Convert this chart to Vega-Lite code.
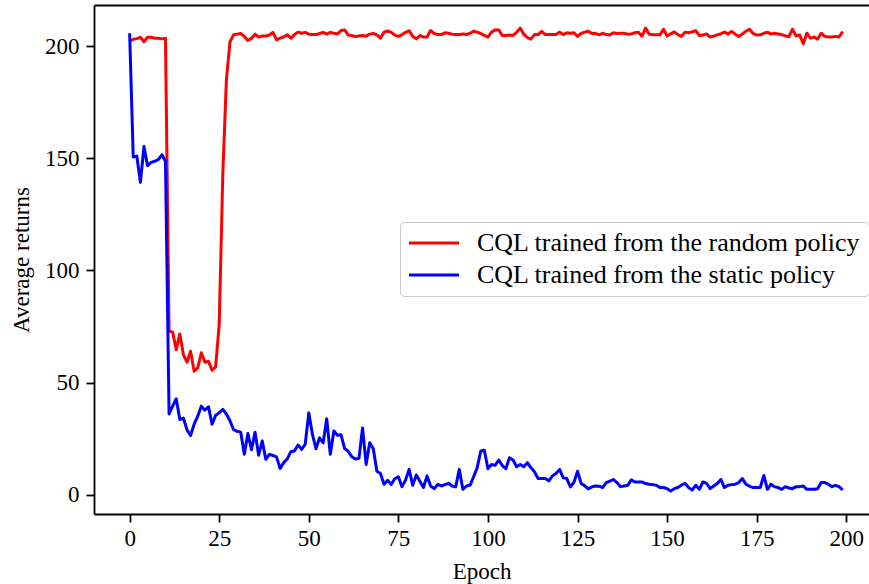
{
  "$schema": "https://vega.github.io/schema/vega-lite/v6.json",
  "width": 775,
  "height": 509,
  "autosize": {"type": "none"},
  "padding": {"left": 94, "top": 5, "right": 0, "bottom": 70},
  "background": "white",
  "config": {
    "view": {"stroke": null},
    "font": "Liberation Serif",
    "axis": {
      "domainColor": "black",
      "domainWidth": 1.8,
      "tickColor": "black",
      "tickWidth": 1.8,
      "tickSize": 8,
      "labelFont": "Liberation Serif",
      "labelFontSize": 23,
      "labelColor": "black",
      "titleFont": "Liberation Serif",
      "titleFontSize": 23,
      "titleFontWeight": "normal",
      "titleColor": "black",
      "grid": false
    }
  },
  "resolve": {"axis": {"x": "independent"}},
  "layer": [
    {
      "data": {
        "values": [
          {"epoch":0,"random":202.4,"static":205.8},{"epoch":1,"random":203.1,"static":150.6},{"epoch":2,"random":203.4,"static":151},{"epoch":3,"random":204,"static":139.3},{"epoch":4,"random":202,"static":155.3},{"epoch":5,"random":204,"static":146.7},{"epoch":6,"random":204,"static":148.2},{"epoch":7,"random":203.6,"static":148.7},{"epoch":8,"random":203.6,"static":149.5},{"epoch":9,"random":203.3,"static":151.6},
          {"epoch":10,"random":203.6,"static":148.7},{"epoch":11,"random":73,"static":36},{"epoch":12,"random":72.5,"static":39.5},{"epoch":13,"random":64.7,"static":42.8},{"epoch":14,"random":71.7,"static":33.5},{"epoch":15,"random":62.5,"static":34.2},{"epoch":16,"random":59.1,"static":29},{"epoch":17,"random":64,"static":26.4},{"epoch":18,"random":55.1,"static":31.5},{"epoch":19,"random":56.6,"static":35},
          {"epoch":20,"random":63.3,"static":39.5},{"epoch":21,"random":59.1,"static":37.7},{"epoch":22,"random":59.5,"static":39.2},{"epoch":23,"random":55.5,"static":31.4},{"epoch":24,"random":57,"static":35.4},{"epoch":25,"random":76,"static":36.5},{"epoch":26,"random":143,"static":38.1},{"epoch":27,"random":185,"static":36},{"epoch":28,"random":202,"static":33},{"epoch":29,"random":205.1,"static":29},
          {"epoch":30,"random":205.4,"static":28.3},{"epoch":31,"random":205.7,"static":27.9},{"epoch":32,"random":204.4,"static":18},{"epoch":33,"random":202.6,"static":27.3},{"epoch":34,"random":203.5,"static":20.1},{"epoch":35,"random":205.4,"static":27.9},{"epoch":36,"random":204.1,"static":17.6},{"epoch":37,"random":204.6,"static":24},{"epoch":38,"random":204.6,"static":15.8},{"epoch":39,"random":205,"static":18},
          {"epoch":40,"random":206.2,"static":17.5},{"epoch":41,"random":202.9,"static":16.9},{"epoch":42,"random":203.6,"static":11.7},{"epoch":43,"random":204.2,"static":14.3},{"epoch":44,"random":205.1,"static":16},{"epoch":45,"random":203.6,"static":19.2},{"epoch":46,"random":205.2,"static":19.5},{"epoch":47,"random":206.3,"static":22.2},{"epoch":48,"random":205.8,"static":20.2},{"epoch":49,"random":206.2,"static":22.5},
          {"epoch":50,"random":205.4,"static":36.5},{"epoch":51,"random":205.2,"static":27},{"epoch":52,"random":205.2,"static":20.5},{"epoch":53,"random":205.7,"static":25.4},{"epoch":54,"random":206.2,"static":23.1},{"epoch":55,"random":205.4,"static":33.9},{"epoch":56,"random":206.2,"static":18},{"epoch":57,"random":205.8,"static":28.4},{"epoch":58,"random":205.5,"static":26.5},{"epoch":59,"random":207,"static":26.7},
          {"epoch":60,"random":207.3,"static":20.6},{"epoch":61,"random":205,"static":19.4},{"epoch":62,"random":204.8,"static":16.9},{"epoch":63,"random":204.3,"static":15.9},{"epoch":64,"random":204.6,"static":16.2},{"epoch":65,"random":204.8,"static":29.8},{"epoch":66,"random":204.5,"static":13.5},{"epoch":67,"random":205.4,"static":23.2},{"epoch":68,"random":205.7,"static":20.5},{"epoch":69,"random":205.1,"static":10.5},
          {"epoch":70,"random":203.6,"static":9.5},{"epoch":71,"random":206.3,"static":4.6},{"epoch":72,"random":206.8,"static":6.4},{"epoch":73,"random":206.2,"static":4.6},{"epoch":74,"random":205,"static":7.1},{"epoch":75,"random":204.4,"static":8},{"epoch":76,"random":205.1,"static":3.6},{"epoch":77,"random":206.2,"static":6.5},{"epoch":78,"random":206.9,"static":11.3},{"epoch":79,"random":204.4,"static":4.2},
          {"epoch":80,"random":203.3,"static":8.8},{"epoch":81,"random":204.8,"static":6},{"epoch":82,"random":204.1,"static":3.2},{"epoch":83,"random":204.1,"static":8.4},{"epoch":84,"random":207,"static":3.9},{"epoch":85,"random":205.7,"static":2.7},{"epoch":86,"random":205.2,"static":4.6},{"epoch":87,"random":205.2,"static":3.9},{"epoch":88,"random":206,"static":4.5},{"epoch":89,"random":205.8,"static":5.1},
          {"epoch":90,"random":205.4,"static":3.9},{"epoch":91,"random":205.2,"static":3.5},{"epoch":92,"random":205.2,"static":11.3},{"epoch":93,"random":205.5,"static":2.4},{"epoch":94,"random":205.2,"static":3.9},{"epoch":95,"random":205.8,"static":4.2},{"epoch":96,"random":206.7,"static":8},{"epoch":97,"random":206.3,"static":12.1},{"epoch":98,"random":205.7,"static":19.5},{"epoch":99,"random":204.8,"static":19.8},
          {"epoch":100,"random":204.1,"static":11.6},{"epoch":101,"random":206.3,"static":13.5},{"epoch":102,"random":207.3,"static":13.1},{"epoch":103,"random":207.3,"static":15.5},{"epoch":104,"random":204.8,"static":13},{"epoch":105,"random":204.8,"static":11.6},{"epoch":106,"random":205,"static":16.5},{"epoch":107,"random":204.8,"static":15.5},{"epoch":108,"random":206.2,"static":12.5},{"epoch":109,"random":208.1,"static":13.5},
          {"epoch":110,"random":205.4,"static":12.5},{"epoch":111,"random":203.9,"static":14.3},{"epoch":112,"random":203.2,"static":12},{"epoch":113,"random":205.2,"static":10.2},{"epoch":114,"random":205.2,"static":7.2},{"epoch":115,"random":206.6,"static":7.2},{"epoch":116,"random":205.2,"static":7.2},{"epoch":117,"random":205.2,"static":6.2},{"epoch":118,"random":205.2,"static":8.4},{"epoch":119,"random":205.2,"static":9.5},
          {"epoch":120,"random":206.3,"static":11.3},{"epoch":121,"random":205.2,"static":7.5},{"epoch":122,"random":206,"static":7.2},{"epoch":123,"random":205.8,"static":3.5},{"epoch":124,"random":206,"static":5.5},{"epoch":125,"random":204.4,"static":10.5},{"epoch":126,"random":205.7,"static":5},{"epoch":127,"random":206.3,"static":4},{"epoch":128,"random":206.7,"static":2.6},{"epoch":129,"random":205.7,"static":3.5},
          {"epoch":130,"random":205.8,"static":3.9},{"epoch":131,"random":205.1,"static":3.8},{"epoch":132,"random":205.8,"static":3.2},{"epoch":133,"random":205.2,"static":5.4},{"epoch":134,"random":205,"static":6},{"epoch":135,"random":206,"static":6.8},{"epoch":136,"random":205.7,"static":5.4},{"epoch":137,"random":205.8,"static":3.6},{"epoch":138,"random":205.8,"static":3.9},{"epoch":139,"random":205.4,"static":4.2},
          {"epoch":140,"random":205.5,"static":6.6},{"epoch":141,"random":206,"static":5.7},{"epoch":142,"random":206.3,"static":5.7},{"epoch":143,"random":204.5,"static":5.7},{"epoch":144,"random":208.1,"static":5},{"epoch":145,"random":205.4,"static":4.7},{"epoch":146,"random":205.1,"static":4.5},{"epoch":147,"random":205.1,"static":4.2},{"epoch":148,"random":205.1,"static":3.2},{"epoch":149,"random":207.6,"static":3.2},
          {"epoch":150,"random":204.6,"static":2.7},{"epoch":151,"random":205.5,"static":1.7},{"epoch":152,"random":206.4,"static":2.7},{"epoch":153,"random":205.2,"static":3.2},{"epoch":154,"random":204.4,"static":4.2},{"epoch":155,"random":206.3,"static":5.1},{"epoch":156,"random":206,"static":3.2},{"epoch":157,"random":206.4,"static":2.1},{"epoch":158,"random":207,"static":4.2},{"epoch":159,"random":204.8,"static":2.4},
          {"epoch":160,"random":205,"static":5.7},{"epoch":161,"random":205.5,"static":5.1},{"epoch":162,"random":204.1,"static":2.7},{"epoch":163,"random":204.5,"static":3.9},{"epoch":164,"random":205.1,"static":5},{"epoch":165,"random":205.5,"static":6.8},{"epoch":166,"random":206.3,"static":3.2},{"epoch":167,"random":205.5,"static":4.2},{"epoch":168,"random":206.6,"static":4.5},{"epoch":169,"random":205.4,"static":4.7},
          {"epoch":170,"random":204.4,"static":5.4},{"epoch":171,"random":205.5,"static":7.2},{"epoch":172,"random":206.7,"static":4.7},{"epoch":173,"random":207.6,"static":3.8},{"epoch":174,"random":205.7,"static":3.2},{"epoch":175,"random":205,"static":3.2},{"epoch":176,"random":205.1,"static":3.2},{"epoch":177,"random":205.8,"static":8.6},{"epoch":178,"random":206.3,"static":2.4},{"epoch":179,"random":205.4,"static":4.7},
          {"epoch":180,"random":205.8,"static":3.5},{"epoch":181,"random":205.5,"static":3.2},{"epoch":182,"random":205.2,"static":2.4},{"epoch":183,"random":204.6,"static":3.6},{"epoch":184,"random":204.3,"static":3},{"epoch":185,"random":207.6,"static":2.7},{"epoch":186,"random":204.6,"static":3.6},{"epoch":187,"random":205,"static":3.6},{"epoch":188,"random":201.1,"static":3.9},{"epoch":189,"random":205.8,"static":2.4},
          {"epoch":190,"random":203.6,"static":2.4},{"epoch":191,"random":204.1,"static":2.4},{"epoch":192,"random":203.2,"static":2.7},{"epoch":193,"random":205.8,"static":5.4},{"epoch":194,"random":204.4,"static":5.4},{"epoch":195,"random":204.1,"static":4.7},{"epoch":196,"random":204.1,"static":3.6},{"epoch":197,"random":204.4,"static":4.2},{"epoch":198,"random":204.1,"static":3.6},{"epoch":199,"random":206.6,"static":2.1}
        ]
      },
      "transform": [{"fold": ["random", "static"], "as": ["series", "value"]}],
      "mark": {"type": "line", "strokeWidth": 3, "strokeJoin": "round"},
      "encoding": {
        "x": {
          "field": "epoch",
          "type": "quantitative",
          "scale": {"domain": [-9.95, 206.35], "nice": false, "zero": false},
          "axis": {"values": [0, 25, 50, 75, 100, 125, 150, 175, 200], "title": "Epoch", "labelPadding": 5, "titlePadding": 10}
        },
        "y": {
          "field": "value",
          "type": "quantitative",
          "scale": {"domain": [-8.6, 218.4], "nice": false, "zero": false},
          "axis": {"values": [0, 50, 100, 150, 200], "title": "Average returns", "labelPadding": 7, "titlePadding": 11}
        },
        "color": {
          "field": "series",
          "type": "nominal",
          "scale": {"domain": ["random", "static"], "range": ["#ff0000", "#0000ff"]},
          "legend": {
            "orient": "none",
            "legendX": 306,
            "legendY": 217,
            "title": null,
            "symbolType": "M-5,0H5",
            "symbolSize": 100,
            "symbolStrokeWidth": 3,
            "symbolOffset": 13,
            "labelOffset": 30,
            "labelFont": "Liberation Serif",
            "labelFontSize": 26,
            "labelColor": "black",
            "labelLimit": 600,
            "padding": 8,
            "rowPadding": 6,
            "strokeColor": "#cccccc",
            "fillColor": "rgba(255,255,255,0.8)",
            "cornerRadius": 4,
            "labelExpr": "datum.label == 'random' ? 'CQL trained from the random policy' : 'CQL trained from the static policy'"
          }
        }
      }
    },
    {
      "data": {"values": [{"z": 0}]},
      "mark": {"type": "rule", "opacity": 0},
      "encoding": {
        "x": {
          "datum": 0,
          "type": "quantitative",
          "scale": {"domain": [-9.95, 206.35], "nice": false, "zero": false},
          "axis": {"orient": "top", "labels": false, "ticks": false, "title": null, "domain": true}
        }
      }
    }
  ]
}
